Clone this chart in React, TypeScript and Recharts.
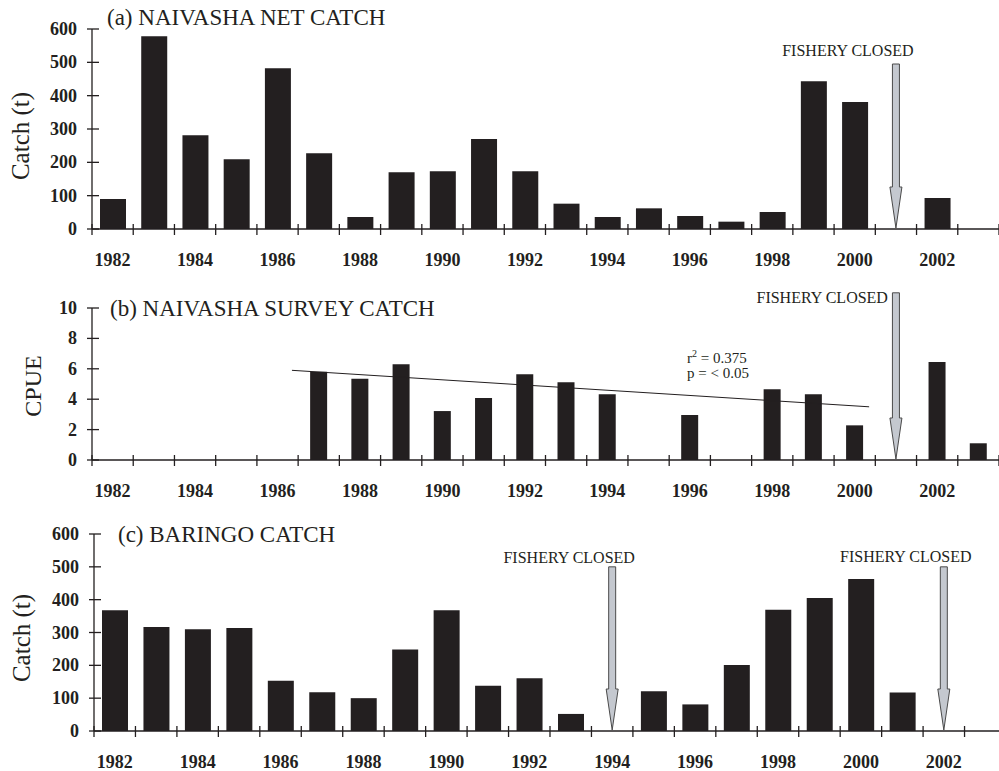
import React from 'react';
import { BarChart, Bar, XAxis, YAxis, ReferenceLine } from 'recharts';

const INK = '#231f20';
const FONT = '"Liberation Serif", "Times New Roman", serif';

const years = [1982, 1983, 1984, 1985, 1986, 1987, 1988, 1989, 1990, 1991, 1992, 1993, 1994, 1995, 1996, 1997, 1998, 1999, 2000, 2001, 2002, 2003];
const netCatch = [90, 578, 281, 209, 482, 227, 36, 170, 173, 270, 173, 76, 36, 62, 39, 22, 51, 443, 381, null, 93, null];
const surveyCpue = [null, null, null, null, null, 5.81, 5.35, 6.3, 3.22, 4.08, 5.64, 5.11, 4.32, null, 2.96, null, 4.65, 4.32, 2.28, null, 6.45, 1.1];
const baringoCatch = [368, 317, 310, 314, 153, 118, 100, 248, 368, 138, 161, 52, null, 121, 81, 201, 369, 405, 463, 117, null, null];

const catchTicks = [0, 100, 200, 300, 400, 500, 600];
const cpueTicks = [0, 2, 4, 6, 8, 10];

// regression line in panel (b)
const trendYears = [1986.35, 2000.35];
const trendCpue = [5.9, 3.5];

// "fishery closed" arrows: year and the value where the arrow starts
const netClosures = [{ year: 2001, from: 495 }];
const surveyClosures = [{ year: 2001, from: 11 }];
const baringoClosures = [{ year: 1994, from: 500 }, { year: 2002, from: 500 }];

const slotEdges = [...years.map((y) => y - 0.5), years[years.length - 1] + 0.5];
const yearLabels = years.filter((y) => y % 2 === 0);
const xTicks = [...slotEdges, ...yearLabels].sort((a, b) => a - b);

const rows = (values: (number | null)[]) => years.map((year, i) => ({ year, value: values[i] }));

function YearTick(props: any) {
  const { x, y, payload } = props;
  const v = payload.value;
  if (Number.isInteger(v)) {
    return (
      <text x={x} y={y + 37} textAnchor="middle" fill={INK} fontFamily={FONT} fontSize={18} fontWeight="bold">
        {v}
      </text>
    );
  }
  return <line x1={x} x2={x} y1={y - 5} y2={y + 6} stroke={INK} strokeWidth={1.3} />;
}

function ValueTick(props: any) {
  const { x, y, payload } = props;
  return (
    <g>
      <line x1={x - 5} x2={x + 7} y1={y} y2={y} stroke={INK} strokeWidth={1.3} />
      <text x={x - 15} y={y + 6} textAnchor="end" fill={INK} fontFamily={FONT} fontSize={18} fontWeight="bold">
        {payload.value}
      </text>
    </g>
  );
}

function ClosedArrow(props: any) {
  const { x1, y1, y2, dx, dy, anchor } = props;
  if (x1 == null || y1 == null) return null;
  const x = x1;
  const headTop = y2 - 42;
  const pts = [
    [x - 3.5, y1],
    [x + 3.5, y1],
    [x + 3.5, headTop],
    [x + 6, headTop],
    [x, y2 - 1],
    [x - 6, headTop],
    [x - 3.5, headTop],
  ]
    .map((p) => p.join(','))
    .join(' ');
  return (
    <g>
      <polygon points={pts} fill="#c4c8cf" stroke="#4a4a4a" strokeWidth={1} />
      <text x={x + dx} y={y1 + dy} textAnchor={anchor} fill={INK} fontFamily={FONT} fontSize={16}>
        FISHERY CLOSED
      </text>
    </g>
  );
}

function Panel({ data, top, height, width, margin, domain, ticks, barSize, children }: any) {
  return (
    <div style={{ position: 'absolute', left: 0, top, width, height }}>
      <BarChart width={width} height={height} data={data} margin={margin}>
        <XAxis xAxisId="cat" dataKey="year" type="category" hide height={0} />
        <XAxis
          xAxisId="num"
          dataKey="year"
          type="number"
          domain={[slotEdges[0], slotEdges[slotEdges.length - 1]]}
          allowDataOverflow
          ticks={xTicks}
          interval={0}
          height={1}
          tickLine={false}
          tickSize={0}
          tickMargin={0}
          axisLine={{ stroke: INK, strokeWidth: 1.3 }}
          tick={<YearTick />}
        />
        <YAxis
          type="number"
          domain={domain}
          allowDataOverflow
          ticks={ticks}
          interval={0}
          width={60}
          tickLine={false}
          tickSize={0}
          tickMargin={0}
          axisLine={{ stroke: INK, strokeWidth: 1.3 }}
          tick={<ValueTick />}
        />
        <Bar xAxisId="cat" dataKey="value" fill={INK} barSize={barSize} isAnimationActive={false} />
        {children}
      </BarChart>
    </div>
  );
}

const arrowLine = (c: { year: number; from: number }, dx: number, dy: number, anchor: string) => (
  <ReferenceLine
    key={`closed-${c.year}`}
    xAxisId="num"
    segment={[
      { x: c.year, y: c.from },
      { x: c.year, y: 0 },
    ]}
    ifOverflow="visible"
    shape={(p: any) => <ClosedArrow {...p} dx={dx} dy={dy} anchor={anchor} />}
  />
);

export default function App() {
  return (
    <div style={{ position: 'absolute', left: 0, top: 0, width: 999, height: 771, overflow: 'hidden', background: '#fff' }}>
      <Panel
        data={rows(netCatch)}
        top={0}
        height={275}
        width={999}
        margin={{ top: 29, right: 0, bottom: 45, left: 32 }}
        domain={[0, 600]}
        ticks={catchTicks}
        barSize={26}
      >
        {netClosures.map((c) => arrowLine(c, -48, -8, 'middle'))}
      </Panel>
      <Panel
        data={rows(surveyCpue)}
        top={275}
        height={235}
        width={999}
        margin={{ top: 33, right: 0, bottom: 49, left: 32 }}
        domain={[0, 10]}
        ticks={cpueTicks}
        barSize={17}
      >
        <ReferenceLine
          xAxisId="num"
          segment={[
            { x: trendYears[0], y: trendCpue[0] },
            { x: trendYears[1], y: trendCpue[1] },
          ]}
          stroke={INK}
          strokeWidth={1}
        />
        {surveyClosures.map((c) => arrowLine(c, -8, 10, 'end'))}
      </Panel>
      <Panel
        data={rows(baringoCatch)}
        top={510}
        height={261}
        width={1006}
        margin={{ top: 24, right: 0, bottom: 39, left: 34 }}
        domain={[0, 600]}
        ticks={catchTicks}
        barSize={26}
      >
        {arrowLine(baringoClosures[0], -43, -4, 'middle')}
        {arrowLine(baringoClosures[1], -38, -5, 'middle')}
      </Panel>
      <svg width={999} height={771} style={{ position: 'absolute', left: 0, top: 0, pointerEvents: 'none' }}>
        <g fill={INK} fontFamily={FONT}>
          <text x={107} y={25} fontSize={23}>(a) NAIVASHA NET CATCH</text>
          <text x={110} y={316} fontSize={23}>(b) NAIVASHA SURVEY CATCH</text>
          <text x={118} y={542} fontSize={23}>(c) BARINGO CATCH</text>
          <text x={687} y={363} fontSize={15}>
            r<tspan fontSize={10} dy={-6}>2</tspan>
            <tspan dy={6}> = 0.375</tspan>
          </text>
          <text x={687} y={378} fontSize={15}>p = &lt; 0.05</text>
          <text transform="translate(29,136) rotate(-90)" textAnchor="middle" fontSize={25}>Catch (t)</text>
          <text transform="translate(41,386) rotate(-90)" textAnchor="middle" fontSize={24}>CPUE</text>
          <text transform="translate(30,638) rotate(-90)" textAnchor="middle" fontSize={25}>Catch (t)</text>
        </g>
      </svg>
    </div>
  );
}
